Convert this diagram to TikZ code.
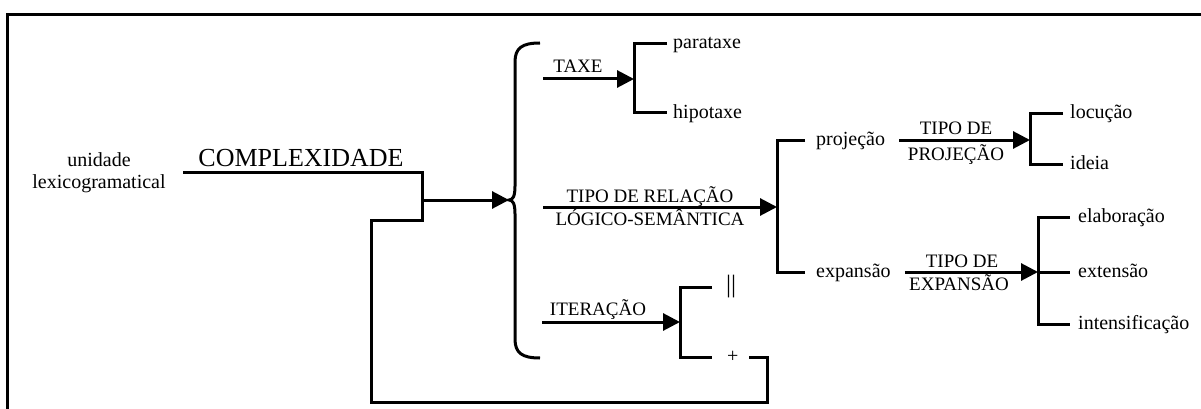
\documentclass[tikz,border=0pt]{standalone}
\usepackage{fontspec}
\setmainfont{Liberation Serif}
\usetikzlibrary{arrows.meta,positioning}

\begin{document}
\begin{tikzpicture}[x=1pt, y=-1pt,
    lbl/.style={font=\fontsize{19}{21}\selectfont, inner sep=0pt, anchor=base},
    term/.style={font=\fontsize{20}{22}\selectfont, inner sep=1pt,
                 text height=14pt, text depth=4pt, anchor=west},
    ln/.style={line width=3pt},
    arr/.style={-{Triangle[length=17pt,width=17pt]}, line width=3pt}
  ]
  \useasboundingbox (0,0) rectangle (1201,409);
  % frame
  \draw[line width=3pt] (7,409) -- (7,15) -- (1201,15);

  % root
  \node[font=\fontsize{20}{22}\selectfont, align=center, anchor=north, inner sep=1pt]
    (unid) at (99,151) {unidade\\lexicogramatical};
  \node[lbl, font=\fontsize{26}{28}\selectfont] (compl) at (301,166) {COMPLEXIDADE};
  \coordinate (c0) at (183,172);
  \coordinate (c1) at (422,172);
  \coordinate (c2) at (422,220);
  \coordinate (jm) at (422,200);
  \coordinate (btip) at (509,200);

  % taxe
  \coordinate (tx0) at (543,79);
  \coordinate (txb) at (634,79);
  \coordinate (pa) at (667,44);
  \coordinate (hi) at (667,113);
  \node[lbl] (taxe) at (578,73) {TAXE};
  \node[term, right=5pt of pa] (parat) {parataxe};
  \node[term, right=5pt of hi] (hipot) {hipotaxe};

  % relacao logico-semantica
  \coordinate (r0) at (543,207);
  \coordinate (rb) at (777,207);
  \coordinate (pj) at (805,140);
  \coordinate (ex) at (805,272);
  \node[lbl] (relA) at (650,202) {TIPO DE RELAÇÃO};
  \node[lbl] (relB) at (650,225) {LÓGICO-SEMÂNTICA};
  \node[term, right=10pt of pj] (proj) {projeção};
  \node[term, right=10pt of ex] (expan) {expansão};

  % iteracao
  \coordinate (i0) at (542,322);
  \coordinate (ib) at (680,322);
  \coordinate (i1) at (712,287);
  \coordinate (i2) at (712,357);
  \node[lbl] (iter) at (598,315) {ITERAÇÃO};
  \node[font=\fontsize{25}{27}\selectfont, inner sep=1pt, right=13pt of i1] (par) {||};
  \node[font=\fontsize{20}{22}\selectfont, inner sep=1pt, right=14pt of i2] (plus) {+};

  % tipo de projecao
  \coordinate (pb) at (1030,140);
  \coordinate (lo) at (1063,114);
  \coordinate (id) at (1063,164);
  \node[lbl] (tpA) at (956,135) {TIPO DE};
  \node[lbl] (tpB) at (956,160) {PROJEÇÃO};
  \node[term, right=6pt of lo] (locu) {locução};
  \node[term, right=6pt of id] (ideia) {ideia};

  % tipo de expansao
  \coordinate (eb) at (1038,272);
  \coordinate (el) at (1070,217);
  \coordinate (et) at (1070,272);
  \coordinate (it2) at (1070,324);
  \node[lbl] (teA) at (962,267) {TIPO DE};
  \node[lbl] (teB) at (959,290) {EXPANSÃO};
  \node[term, right=7pt of el] (elab) {elaboração};
  \node[term, right=7pt of et] (exten) {extensão};
  \node[term, right=7pt of it2] (inten) {intensificação};

  % connectors
  \draw[ln] (c0) -- (c1) -- (c2) -- (371,220) |- (767,402) |- ([xshift=9pt]plus.east);
  \draw[arr] (jm) -- (btip);
  \draw[ln] (540,43) .. controls (522,43) and (515,48) .. (515,62) -- (515,186)
    .. controls (515,196) and (513,200) .. (btip)
    .. controls (513,200) and (515,204) .. (515,214) -- (515,339)
    .. controls (515,353) and (522,358) .. (540,358);
  \draw[arr] (tx0) -- (txb);
  \draw[ln] (pa) -| (txb) |- (hi);
  \draw[arr] (r0) -- (rb);
  \draw[ln] (pj) -| (rb) |- (ex);
  \draw[arr] (i0) -- (ib);
  \draw[ln] (i1) -| (ib) |- (i2);
  \draw[arr] ([xshift=13pt]proj.east) -- (pb);
  \draw[ln] (lo) -| (pb) |- (id);
  \draw[arr] ([xshift=13pt]expan.east) -- (eb);
  \draw[ln] (el) -| (eb) |- (it2);
  \draw[ln] (eb) -- (et);
\end{tikzpicture}
\end{document}
